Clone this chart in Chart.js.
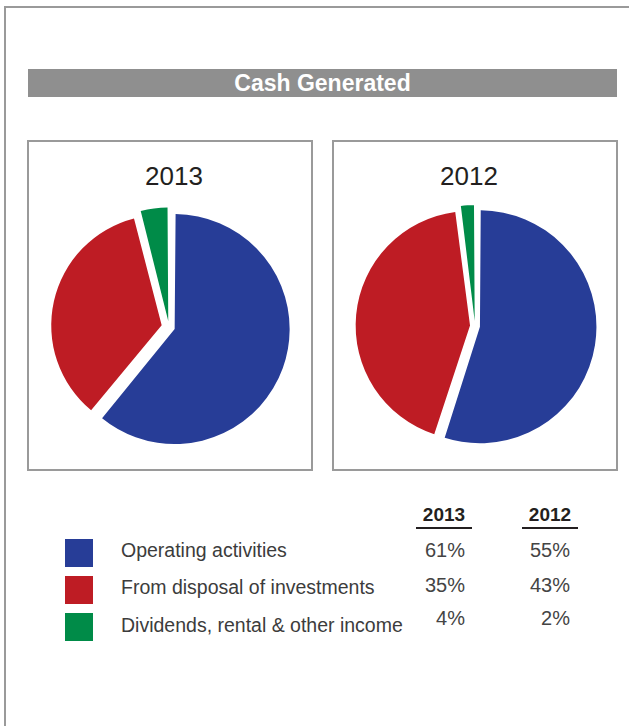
<!DOCTYPE html>
<html>
<head>
<meta charset="utf-8">
<script src="https://cdn.jsdelivr.net/npm/chart.js@4.4.1/dist/chart.umd.min.js"></script>
<style>
    html, body { margin: 0; padding: 0; background: #fff; overflow: hidden; }
    body { width: 629px; height: 726px; position: relative; font-family: "Liberation Sans", Arial, Helvetica, sans-serif; }
    .abs { position: absolute; }
    .frame { left: 4px; top: 6px; width: 700px; height: 800px; border-left: 2px solid #9a9a9a; border-top: 2px solid #9a9a9a; }
    .bar { left: 28px; top: 69px; width: 589px; height: 28px; background: #8f8f8f; color: #fff;
           font-weight: bold; font-size: 23px; line-height: 28px; text-align: center; }
    .box { top: 140px; width: 286px; height: 331px; border: 2px solid #9a9a9a; box-sizing: border-box; }
    .year { font-size: 26px; line-height: 26px; color: #231f20; transform: translateX(-50%); white-space: nowrap; }
    .swatch { width: 28px; height: 28px; }
    .label { font-size: 19.5px; line-height: 20px; color: #3c3c3c; white-space: nowrap; }
    .head { font-size: 19px; line-height: 20px; font-weight: bold; color: #231f20; transform: translateX(-50%); }
    .rule { height: 2px; background: #231f20; }
    .val { font-size: 20px; line-height: 20px; color: #444; text-align: right; width: 80px; }
</style>
</head>
<body>
<div class="abs frame"></div>
<div class="abs bar">Cash Generated</div>
<div class="abs box" style="left:27px"></div>
<div class="abs box" style="left:332px"></div>
<canvas id="pie2013" class="abs" width="260" height="260" style="left:39px; top:197px"></canvas>
<canvas id="pie2012" class="abs" width="260" height="260" style="left:345px; top:196px"></canvas>
<div id="legend"></div>

<script>
// --- Dados ---
const categories = ['Operating activities', 'From disposal of investments', 'Dividends, rental & other income'];
const years = ['2013', '2012'];
const share2013 = [61, 35, 4];
const share2012 = [55, 43, 2];

const palette = ['#273d97', '#be1c24', '#008b48'];

// --- Gráficos de pizza ---
function renderPie(canvasId, values, radius, offsets) {
    return new Chart(document.getElementById(canvasId), {
        type: 'pie',
        data: {
            labels: categories,
            datasets: [{
                data: values,
                backgroundColor: palette,
                borderWidth: 0,
                offset: offsets, // fatias "explodidas"
                radius: radius
            }]
        },
        options: {
            responsive: false,
            animation: false,
            events: [],
            layout: { padding: 0 },
            plugins: { legend: { display: false }, tooltip: { enabled: false } }
        }
    });
}

renderPie('pie2013', share2013, 109, [24, 30, 24]);
renderPie('pie2012', share2012, 111.5, [20, 20, 20]);

// --- Títulos dos anos e tabela de legenda ---
const legend = document.getElementById('legend');

function addEl(cls, style, text) {
    const el = document.createElement('div');
    el.className = 'abs ' + cls;
    el.style.cssText = style;
    if (text !== undefined) el.textContent = text;
    legend.appendChild(el);
    return el;
}

const yearCenters = [174, 469];
years.forEach((y, i) => addEl('year', `left:${yearCenters[i]}px; top:163px`, y));

const headCenters = [444, 550];
years.forEach((y, i) => {
    addEl('head', `left:${headCenters[i]}px; top:505px`, y);
    addEl('rule', `left:${headCenters[i] - 28}px; top:527px; width:56px`);
});

const labelTops = [540, 577, 614.5];
const valueTops = [540, 574.5, 608];
const valueRights = [465, 570];
const series = [share2013, share2012];

categories.forEach((cat, i) => {
    addEl('swatch', `left:65px; top:${539 + i * 37}px; background:${palette[i]}`);
    addEl('label', `left:121px; top:${labelTops[i]}px`, cat);
    series.forEach((s, j) => {
        addEl('val', `left:${valueRights[j] - 80}px; top:${valueTops[i]}px`, s[i] + '%');
    });
});
</script>
</body>
</html>
